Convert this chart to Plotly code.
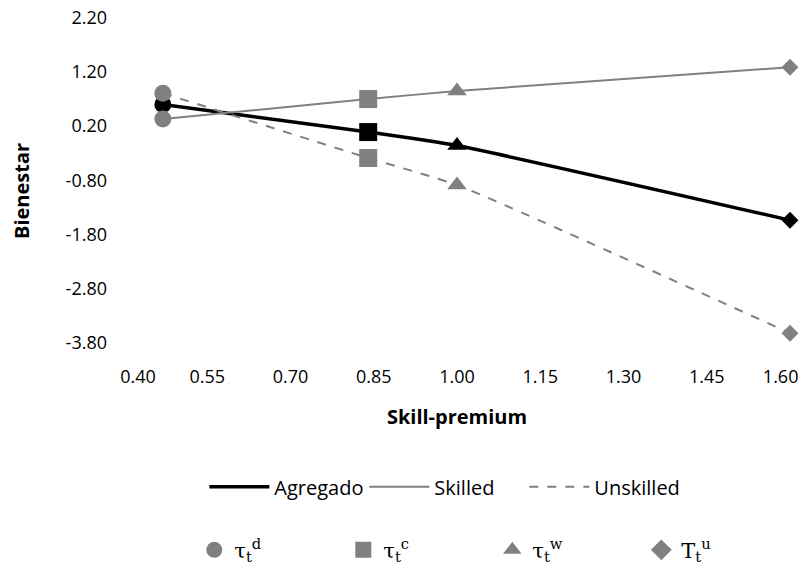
import plotly.graph_objects as go

skill_premium = [0.47, 0.84, 1.00, 1.60]
agregado = [0.60, 0.09, -0.16, -1.54]
skilled = [0.33, 0.70, 0.85, 1.29]
unskilled = [0.81, -0.39, -0.89, -3.63]
instrument_labels = ["τ<sub>t</sub><sup>d</sup>", "τ<sub>t</sub><sup>c</sup>",
                     "τ<sub>t</sub><sup>w</sup>", "T<sub>t</sub><sup>u</sup>"]
symbols = ["circle", "square", "triangle-up", "diamond"]
x_ticks = [0.40, 0.55, 0.70, 0.85, 1.00, 1.15, 1.30, 1.45, 1.60]
y_ticks = [2.20, 1.20, 0.20, -0.80, -1.80, -2.80, -3.80]

BLACK = "#000000"
GRAY = "#808080"
FONT = "Open Sans, Noto Sans, sans-serif"
marker_sizes = [17, 18, 17, 13]
NB = "\u00a0"

# edge labels nudged inward (as in the reference) via non-breaking spaces
x_text = [f"{v:.2f}" for v in x_ticks]
x_text[0] = NB * 6 + x_text[0]
x_text[-1] = x_text[-1] + NB * 4

fig = go.Figure()

series = [
    ("Agregado", agregado, BLACK, 3.5, "solid"),
    ("Skilled", skilled, GRAY, 2, "solid"),
    ("Unskilled", unskilled, GRAY, 2, "dash"),
]
for name, ys, color, w, dash in series:
    fig.add_trace(go.Scatter(
        x=skill_premium, y=ys, mode="lines", name=name,
        line=dict(color=color, width=w, dash=dash, shape="spline", smoothing=0.5),
        legend="legend", cliponaxis=False,
    ))
for name, ys, color, w, dash in series:
    fig.add_trace(go.Scatter(
        x=skill_premium, y=ys, mode="markers", showlegend=False,
        marker=dict(symbol=symbols, size=marker_sizes, color=color,
                    opacity=1, line=dict(width=0)),
        cliponaxis=False,
    ))

for sym, lab in zip(symbols, instrument_labels):
    fig.add_trace(go.Scatter(
        x=[None], y=[None], mode="markers", name=lab, legend="legend2",
        marker=dict(symbol=sym, size=20, color=GRAY, opacity=1),
    ))

fig.update_layout(
    width=792, height=559,
    margin=dict(l=116, r=10, t=10, b=203, autoexpand=False),
    paper_bgcolor="white", plot_bgcolor="white",
    font=dict(family=FONT, size=18, color="#000000"),
    xaxis=dict(
        range=[0.40, 1.60], tickvals=x_ticks, ticktext=x_text,
        showgrid=False, zeroline=False, showline=False,
        title=dict(text="<b>Skill-premium</b>", font=dict(size=20), standoff=22),
        tickfont=dict(size=18), automargin=False,
        ticklabeloverflow="allow",
    ),
    yaxis=dict(
        range=[-4.2, 2.2], tickvals=y_ticks,
        ticktext=[f"{v:.2f}" for v in y_ticks],
        showgrid=False, zeroline=False, showline=False,
        title=dict(text="<b>Bienestar</b>", font=dict(size=20), standoff=30),
        tickfont=dict(size=18), ticklabelstandoff=16, automargin=False,
        ticklabeloverflow="allow",
    ),
    legend=dict(
        orientation="h", x=0.481, xanchor="center", y=-0.355, yanchor="middle",
        font=dict(size=20), itemwidth=60,
        entrywidth=85, entrywidthmode="pixels",
    ),
    legend2=dict(
        orientation="h", x=0.553, xanchor="center", y=-0.538, yanchor="middle",
        font=dict(size=21, family="DejaVu Serif, Liberation Serif, serif"),
        entrywidth=104, entrywidthmode="pixels",
    ),
)

fig.write_html("out.html")
